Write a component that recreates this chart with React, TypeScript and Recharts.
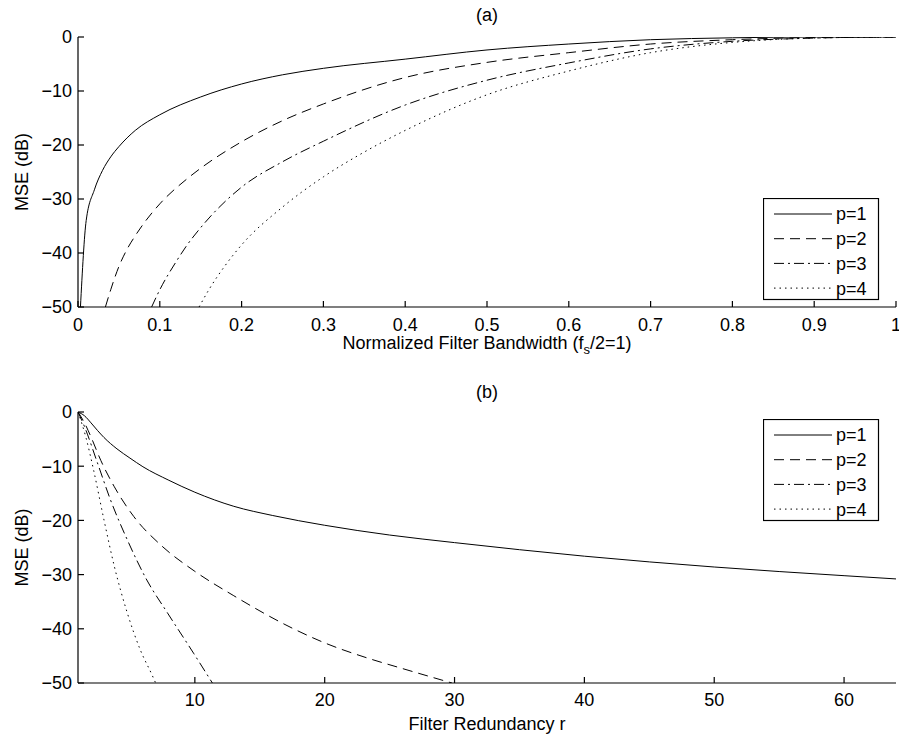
import { Legend, Line, LineChart, XAxis, YAxis } from "recharts";

// tick labels
const bwTicks = [0, 0.1, 0.2, 0.3, 0.4, 0.5, 0.6, 0.7, 0.8, 0.9, 1];
const redTicks = [10, 20, 30, 40, 50, 60];
const dbTicks = [-50, -40, -30, -20, -10, 0];
const seriesNames = ["p=1", "p=2", "p=3", "p=4"];

// (a) MSE vs normalized bandwidth
const bwP1X = [0.003, 0.01, 0.02, 0.03, 0.04, 0.05, 0.07, 0.1, 0.15, 0.2, 0.25, 0.3, 0.4, 0.5, 0.6, 0.7, 0.8, 0.9, 1];
const bwP1Y = [-50, -34, -28.3, -24.7, -22.2, -20.3, -17.3, -14.4, -11.1, -8.7, -7.0, -5.8, -4.1, -2.4, -1.3, -0.5, -0.15, 0, 0];
const bwP2X = [0.0335, 0.04, 0.05, 0.06, 0.07, 0.08, 0.1, 0.133, 0.15, 0.2, 0.25, 0.3, 0.4, 0.5, 0.6, 0.7, 0.8, 0.9, 1];
const bwP2Y = [-50, -46.8, -42.5, -39.3, -36.8, -34.6, -30.9, -26.3, -24.3, -19.4, -15.5, -12.4, -7.5, -4.7, -2.9, -1.3, -0.5, -0.1, 0];
const bwP3X = [0.09, 0.1, 0.12, 0.133, 0.15, 0.2, 0.25, 0.3, 0.4, 0.5, 0.6, 0.7, 0.8, 0.9, 1];
const bwP3Y = [-50, -46.8, -41.6, -38.6, -35.3, -27.8, -23.1, -19.3, -12.6, -8.0, -4.8, -2.2, -0.8, -0.2, 0];
const bwP4X = [0.148, 0.16, 0.18, 0.2, 0.25, 0.3, 0.35, 0.4, 0.5, 0.6, 0.7, 0.8, 0.9, 1];
const bwP4Y = [-50, -46.8, -42.3, -38.5, -31.5, -25.9, -21.3, -17.3, -10.7, -6.3, -2.9, -1.0, -0.2, 0];

// (b) MSE vs filter redundancy
const redP1X = [1, 1.5, 2, 2.5, 3, 4, 5, 6, 8, 10, 13, 16, 20, 25, 30, 40, 50, 60, 64];
const redP1Y = [0, -0.7, -2.0, -3.4, -4.7, -6.8, -8.5, -10.1, -12.6, -14.8, -17.4, -19.1, -20.9, -22.7, -24.1, -26.6, -28.6, -30.2, -30.8];
const redP2X = [1, 1.5, 2, 2.75, 3.8, 5.3, 7.4, 10, 13, 17.6, 20, 23.3, 25.8, 29.8];
const redP2Y = [0, -2.0, -4.6, -8.9, -13.8, -19.3, -24.6, -29.4, -33.9, -40.0, -42.6, -45.4, -47.2, -50];
const redP3X = [1, 1.5, 2.5, 3.5, 4.8, 6.3, 7.9, 9.9, 11.35];
const redP3Y = [0, -2.7, -9.4, -16.2, -23.6, -31, -37.1, -44.5, -50];
const redP4X = [1, 1.6, 2.2, 3, 3.8, 4.8, 5.8, 6.7, 6.98];
const redP4Y = [0, -4.6, -10.7, -19.9, -28.5, -37.1, -43.9, -48.5, -50];

const dashes = [undefined, "10 6", "10 4 2 4", "1.5 4"];
const FONT = 18;

const toPoints = (xs: number[], ys: number[]) => xs.map((x, i) => ({ x, y: ys[i] }));

const bwSeries = [
  toPoints(bwP1X, bwP1Y),
  toPoints(bwP2X, bwP2Y),
  toPoints(bwP3X, bwP3Y),
  toPoints(bwP4X, bwP4Y),
];
const redSeries = [
  toPoints(redP1X, redP1Y),
  toPoints(redP2X, redP2Y),
  toPoints(redP3X, redP3Y),
  toPoints(redP4X, redP4Y),
];

const dbFormat = (v: number) => (v < 0 ? `\u2212${-v}` : `${v}`);
const blank = () => "";

function LegendBox() {
  return (
    <svg width={117} height={103} style={{ display: "block" }}>
      <rect x={0.5} y={0.5} width={115} height={101} fill="#fff" stroke="#000" strokeWidth={1.2} />
      {seriesNames.map((name, i) => (
        <g key={name}>
          <line
            x1={11}
            x2={69}
            y1={16 + i * 24.7}
            y2={16 + i * 24.7}
            stroke="#000"
            strokeDasharray={dashes[i]}
          />
          <text x={73} y={16 + i * 24.7} dy="0.36em" fontSize={FONT} fill="#000">
            {name}
          </text>
        </g>
      ))}
    </svg>
  );
}

function YTitle({ viewBox }: any) {
  const cx = 22;
  const cy = viewBox.y + viewBox.height / 2;
  return (
    <text
      x={cx}
      y={cy}
      dy="0.36em"
      textAnchor="middle"
      fontSize={FONT}
      fill="#000"
      transform={`rotate(-90 ${cx} ${cy})`}
    >
      MSE (dB)
    </text>
  );
}

function BwTitle({ viewBox }: any) {
  return (
    <text x={viewBox.x + viewBox.width / 2} y={viewBox.y + 42} textAnchor="middle" fontSize={FONT} fill="#000">
      Normalized Filter Bandwidth (f
      <tspan dy={5} fontSize={13}>
        s
      </tspan>
      <tspan dy={-5}>/2=1)</tspan>
    </text>
  );
}

function RedTitle({ viewBox }: any) {
  return (
    <text x={viewBox.x + viewBox.width / 2} y={viewBox.y + 47} textAnchor="middle" fontSize={FONT} fill="#000">
      Filter Redundancy r
    </text>
  );
}

function Panel({
  title,
  titleTop,
  top,
  height,
  marginTop,
  xHeight,
  domain,
  ticks,
  xTickMargin,
  xLabel,
  series,
  legendTop,
}: any) {
  return (
    <div style={{ position: "absolute", left: 0, top, width: 899, height }}>
      <div
        style={{
          position: "absolute",
          left: 78,
          width: 818,
          top: titleTop,
          textAlign: "center",
          fontSize: FONT,
          lineHeight: "20px",
        }}
      >
        {title}
      </div>
      <LineChart width={899} height={height} margin={{ top: marginTop, right: 3, bottom: 0, left: 0 }}>
        <XAxis
          type="number"
          dataKey="x"
          domain={domain}
          ticks={ticks}
          height={xHeight}
          tickSize={-6}
          tickMargin={xTickMargin}
          tick={{ fill: "#000", fontSize: FONT }}
          stroke="#000"
          strokeWidth={1.2}
          interval={0}
          allowDataOverflow
          label={(p: any) => xLabel(p)}
        />
        <XAxis
          xAxisId="top"
          orientation="top"
          type="number"
          domain={domain}
          ticks={ticks}
          height={0}
          tickSize={-6}
          tickFormatter={blank}
          stroke="#000"
          strokeWidth={1.2}
          interval={0}
        />
        <YAxis
          type="number"
          domain={[-50, 0]}
          ticks={dbTicks}
          width={78}
          tickSize={-6}
          tickMargin={12}
          tickFormatter={dbFormat}
          tick={{ fill: "#000", fontSize: FONT }}
          stroke="#000"
          strokeWidth={1.2}
          interval={0}
          allowDataOverflow
          label={(p: any) => <YTitle {...p} />}
        />
        <YAxis
          yAxisId="right"
          orientation="right"
          type="number"
          domain={[-50, 0]}
          ticks={dbTicks}
          width={0}
          tickSize={-6}
          tickFormatter={blank}
          stroke="#000"
          strokeWidth={1.2}
          interval={0}
        />
        {series.map((pts: any[], i: number) => (
          <Line
            key={seriesNames[i]}
            data={pts}
            dataKey="y"
            name={seriesNames[i]}
            type="monotone"
            stroke="#000"
            strokeWidth={1}
            strokeDasharray={dashes[i]}
            dot={false}
            activeDot={false}
            isAnimationActive={false}
          />
        ))}
        <Legend
          layout="horizontal"
          verticalAlign="middle"
          align="center"
          content={() => <LegendBox />}
          wrapperStyle={{ left: 763, top: legendTop, width: 117, height: 103 }}
        />
      </LineChart>
    </div>
  );
}

export default function App() {
  return (
    <div
      style={{
        position: "absolute",
        left: 0,
        top: 0,
        width: 899,
        height: 738,
        background: "#fff",
        fontFamily: "'Liberation Sans', Arial, Helvetica, sans-serif",
        color: "#000",
      }}
    >
      <Panel
        title="(a)"
        titleTop={5}
        top={0}
        height={360}
        marginTop={37}
        xHeight={53}
        domain={[0, 1]}
        ticks={bwTicks}
        xTickMargin={17}
        xLabel={(p: any) => <BwTitle {...p} />}
        series={bwSeries}
        legendTop={198}
      />
      <Panel
        title="(b)"
        titleTop={22}
        top={360}
        height={378}
        marginTop={52}
        xHeight={55}
        domain={[1, 64]}
        ticks={redTicks}
        xTickMargin={16}
        xLabel={(p: any) => <RedTitle {...p} />}
        series={redSeries}
        legendTop={59}
      />
    </div>
  );
}
